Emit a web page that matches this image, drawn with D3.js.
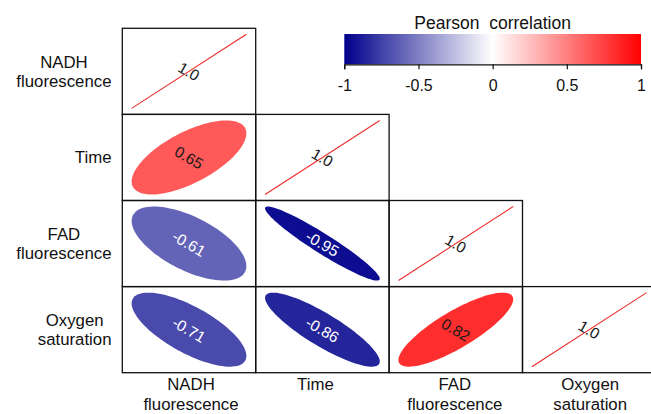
<!DOCTYPE html>
<html><head><meta charset="utf-8">
<script src="https://cdn.jsdelivr.net/npm/d3@7"></script>
<style>body{margin:0;background:#fff}svg{display:block;font-family:"Liberation Sans",Arial,Helvetica,sans-serif}</style>
</head><body>
<svg id="c" width="651" height="414"></svg>
<script>
// ---- data ----
const variables = ["NADH fluorescence", "Time", "FAD fluorescence", "Oxygen saturation"];
const labelLines = [["NADH", "fluorescence"], ["Time"], ["FAD", "fluorescence"], ["Oxygen", "saturation"]];
// lower triangle of the Pearson correlation matrix (row i, columns 0..i)
const corrRows = [
  [1.0],
  [0.65, 1.0],
  [-0.61, -0.95, 1.0],
  [-0.71, -0.86, 0.82, 1.0]
];
const legendTicks = [-1, -0.5, 0, 0.5, 1];
const legendTitle = "Pearson  correlation";
const colorStops = ["#00008B", "#FFFFFF", "#FF0000"];

// ---- layout ----
const svg = d3.select("#c");
const idx = d3.range(variables.length);
const x = d3.scaleBand().domain(idx).range([122.3, 655.9]);
const y = d3.scaleBand().domain(idx).range([28.3, 372.7]);
const bw = x.bandwidth(), bh = y.bandwidth();
const color = d3.scaleLinear().domain([-1, 0, 1]).range(colorStops);

const cells = [];
corrRows.forEach((row, i) => row.forEach((v, j) => cells.push({i, j, v})));

const fill = 0.86;
function ellipsePts(r) {
  const a = Math.acos(Math.max(-1, Math.min(1, r)));
  return d3.range(0, 100).map(n => {
    const k = n / 100 * 2 * Math.PI;
    return [Math.cos(k + a / 2) / 2, Math.cos(k - a / 2) / 2];
  });
}
const sx = d3.scaleLinear().domain([-0.5, 0.5]).range([-bw * fill / 2, bw * fill / 2]);
const sy = d3.scaleLinear().domain([-0.5, 0.5]).range([bh * fill / 2, -bh * fill / 2]);
const closed = d3.line().x(p => sx(p[0])).y(p => sy(p[1])).curve(d3.curveLinearClosed);
const open = d3.line().x(p => sx(p[0])).y(p => sy(p[1]));

const g = svg.append("g");
const cg = g.selectAll("g.cell").data(cells).join("g")
  .attr("transform", d => `translate(${x(d.j) + bw / 2},${y(d.i) + bh / 2})`);

cg.filter(d => d.v < 1).append("path")
  .attr("d", d => closed(ellipsePts(d.v)))
  .attr("fill", d => color(d.v));

cg.filter(d => d.v >= 1).append("path")
  .attr("d", d => open([[-0.5, -0.5], [0.5, 0.5]]))
  .attr("fill", "none").attr("stroke", "#ee2a2a").attr("stroke-width", 1.1);

cg.append("text")
  .attr("transform", "rotate(30)")
  .attr("text-anchor", "middle").attr("dy", "0.36em")
  .attr("font-size", 15.5)
  .attr("fill", d => d.v < 0 ? "#ffffff" : "#1a1a1a")
  .text(d => d.v >= 1 ? "1.0" : d.v.toFixed(2));

// cell borders
g.selectAll("rect.border").data(cells).join("rect")
  .attr("x", d => x(d.j)).attr("y", d => y(d.i))
  .attr("width", bw).attr("height", bh)
  .attr("fill", "none").attr("stroke", "#111").attr("stroke-width", 1.3);

// row labels (right-aligned blocks, centered lines)
const labelFont = 16.8, lineH = 19.5, rowRight = 111.5;
idx.forEach(i => {
  const lines = labelLines[i];
  const cy = y(i) + bh / 2;
  const t = svg.append("g");
  const texts = t.selectAll("text").data(lines).join("text")
    .attr("font-size", labelFont).attr("fill", "#111")
    .attr("text-anchor", "middle")
    .attr("y", (d, k) => cy + 6 - (lines.length - 1) * lineH / 2 + k * lineH)
    .text(d => d);
  const w = d3.max(texts.nodes(), n => n.getComputedTextLength());
  texts.attr("x", rowRight - w / 2);
});

// column labels
const colNudge = [2, -7, -1, 1];
idx.forEach(j => {
  svg.append("g").selectAll("text").data(labelLines[j]).join("text")
    .attr("font-size", labelFont).attr("fill", "#111")
    .attr("text-anchor", "middle")
    .attr("x", x(j) + bw / 2 + colNudge[j])
    .attr("y", (d, k) => 390 + k * lineH)
    .text(d => d);
});

// ---- colour legend ----
const lx = d3.scaleLinear().domain([-1, 1]).range([344.3, 641]);
const barTop = 34, barBot = 64.3;
const grad = svg.append("defs").append("linearGradient").attr("id", "lg")
  .attr("x1", "0%").attr("x2", "100%").attr("y1", "0%").attr("y2", "0%");
grad.selectAll("stop").data(d3.range(0, 1.0001, 0.05)).join("stop")
  .attr("offset", d => (d * 100) + "%")
  .attr("stop-color", d => color(-1 + 2 * d));
svg.append("rect").attr("x", lx(-1)).attr("y", barTop)
  .attr("width", lx(1) - lx(-1)).attr("height", barBot - barTop)
  .attr("fill", "url(#lg)");
const ax = svg.append("g").attr("transform", `translate(0,${barBot})`)
  .call(d3.axisBottom(lx).tickValues(legendTicks).tickSize(5).tickSizeOuter(5).tickPadding(10)
    .tickFormat(d => String(d)));
ax.selectAll("path,line").attr("stroke", "#111").attr("stroke-width", 1.2);
ax.selectAll("text").attr("font-size", 16).attr("fill", "#111")
  .attr("font-family", "'Liberation Sans',Arial,sans-serif");
svg.append("text").attr("x", (lx(-1) + lx(1)) / 2).attr("y", 29)
  .attr("text-anchor", "middle").attr("font-size", 17.5).attr("fill", "#111")
  .attr("xml:space", "preserve").style("white-space", "pre")
  .text(legendTitle);
</script>
</body></html>
